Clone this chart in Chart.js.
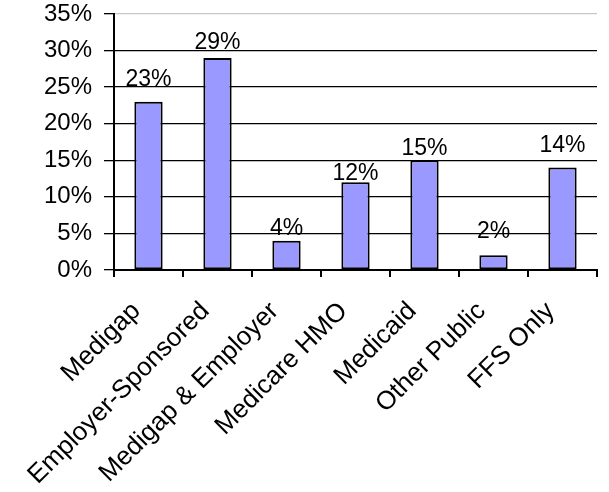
<!DOCTYPE html>
<html>
<head>
<meta charset="utf-8">
<script src="https://cdn.jsdelivr.net/npm/chart.js@4/dist/chart.umd.min.js"></script>
<style>
  html, body { margin: 0; padding: 0; background: #fff; }
  #wrap { width: 609px; height: 492px; }
</style>
</head>
<body>
<div id="wrap"><canvas id="chart"></canvas></div>
<script>
const categories = ['Medigap', 'Employer-Sponsored', 'Medigap & Employer', 'Medicare HMO', 'Medicaid', 'Other Public', 'FFS Only'];
const shares = [23, 29, 4, 12, 15, 2, 14];
const yTicks = [0, 5, 10, 15, 20, 25, 30, 35];

// gap (px) between each value label and its bar top, as in the original
const labelGaps = [16, 9, 6, 2, 5, 17, 16];

const FONT = 'Arial, "Liberation Sans", sans-serif';

const valueLabels = {
    id: 'valueLabels',
    afterDatasetsDraw(chart) {
        const c = chart.ctx;
        const meta = chart.getDatasetMeta(0);
        c.save();
        c.fillStyle = '#000';
        c.font = '23px ' + FONT;
        c.textAlign = 'center';
        c.textBaseline = 'alphabetic';
        meta.data.forEach((bar, i) => {
            c.fillText(shares[i] + '%', bar.x, bar.y - labelGaps[i]);
        });
        c.restore();
    }
};

// no automatic padding for overhanging tick labels
function noPad(s) {
    s.paddingTop = 0; s.paddingBottom = 0; s.paddingLeft = 0; s.paddingRight = 0;
}

new Chart(document.getElementById('chart'), {
    type: 'bar',
    data: {
        labels: categories,
        datasets: [{
            data: shares,
            backgroundColor: '#9999ff',
            borderColor: '#000',
            borderWidth: 2,
            borderSkipped: false,
            categoryPercentage: 1,
            barPercentage: 0.41
        }]
    },
    options: {
        responsive: true,
        maintainAspectRatio: false,
        animation: false,
        layout: { padding: { top: 14, right: 12, left: 0, bottom: 0 } },
        plugins: { legend: { display: false }, tooltip: { enabled: false } },
        scales: {
            x: {
                afterFit(s) { s.height = 222; noPad(s); },
                grid: { offset: true, drawOnChartArea: false, color: '#000', lineWidth: 2, tickLength: 7 },
                border: { color: '#000', width: 2 },
                ticks: {
                    color: '#000',
                    font: { family: FONT, size: 26 },
                    minRotation: 45,
                    maxRotation: 45,
                    autoSkip: false,
                    padding: 19,
                    labelOffset: -12
                }
            },
            y: {
                min: 0,
                max: 35,
                afterFit(s) { s.width = 114; noPad(s); },
                afterBuildTicks(s) { s.ticks = yTicks.map(v => ({ value: v })); },
                grid: {
                    color: ctx => (ctx.tick && ctx.tick.value === 35 ? '#c8c8c8' : '#000'),
                    tickColor: '#000',
                    lineWidth: 1.3,
                    tickLength: 10
                },
                border: { color: '#000', width: 2 },
                ticks: {
                    color: '#000',
                    font: { family: FONT, size: 24 },
                    padding: 12,
                    callback: v => v + '%'
                }
            }
        }
    },
    plugins: [valueLabels]
});
</script>
</body>
</html>
